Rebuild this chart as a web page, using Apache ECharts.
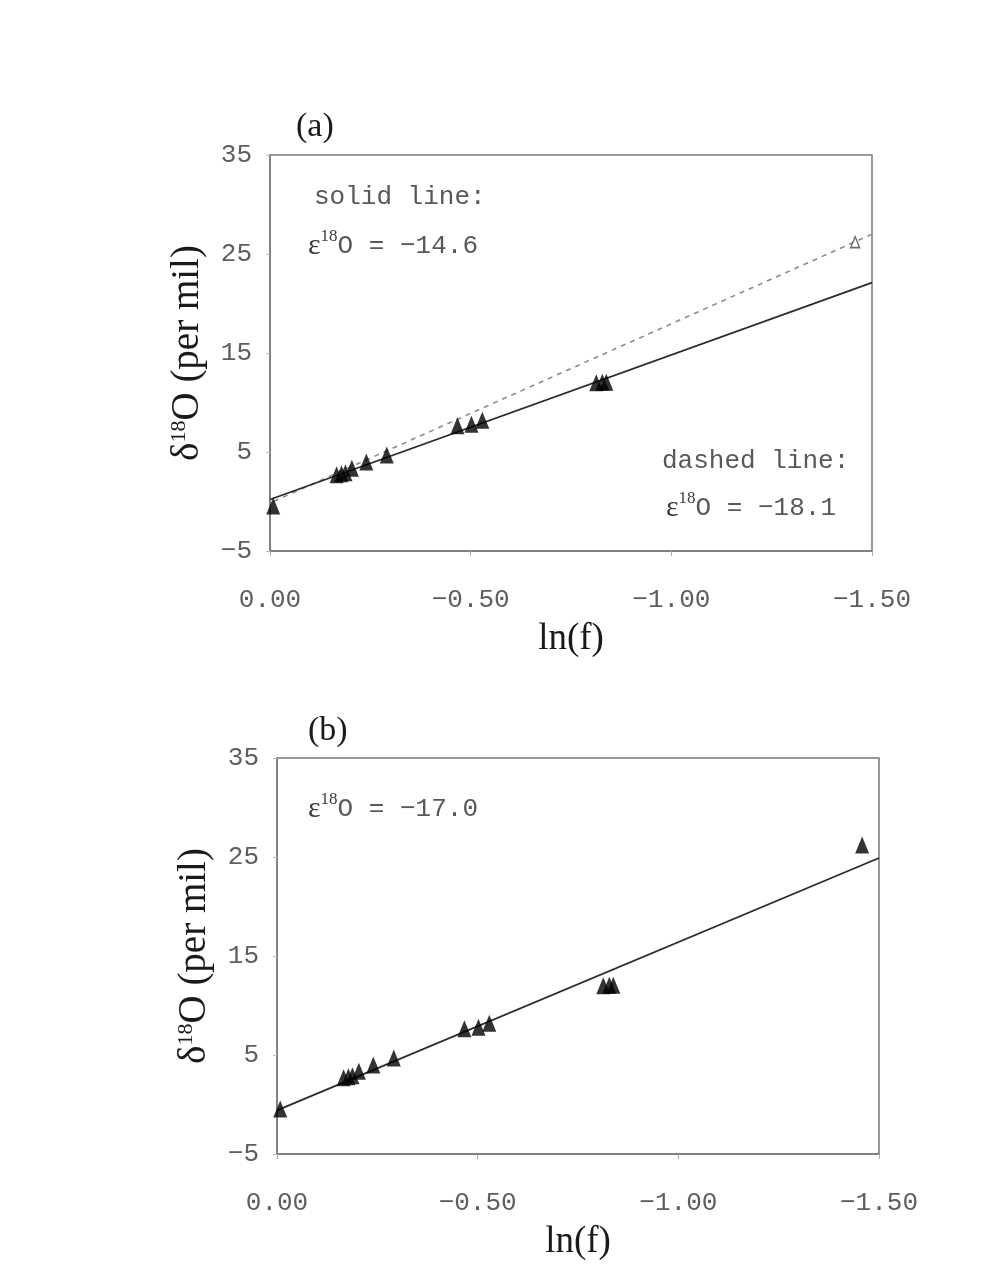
<!DOCTYPE html>
<html>
<head>
<meta charset="utf-8">
<script src="https://cdn.jsdelivr.net/npm/echarts@6/dist/echarts.min.js"></script>
<style>
  html, body { margin: 0; padding: 0; background: #ffffff; }
  #chart { width: 993px; height: 1283px; }
</style>
</head>
<body>
<div id="chart"></div>
<script>
// Residual-fraction measurements: ln(f) and delta-18O (per mil)
const lnF   = [-0.008, -0.166, -0.178, -0.188, -0.204, -0.240, -0.291, -0.467, -0.502, -0.529, -0.813, -0.828, -0.838];
const d18O  = [-0.45, 2.7, 2.8, 2.9, 3.35, 4.0, 4.7, 7.65, 7.8, 8.2, 12.0, 12.05, 12.05];
// last sample (open symbol in panel a, included in the fit of panel b)
const lastLnF = [-1.458];
const lastD18O = [26.2];

// Rayleigh fits: delta = delta0 + epsilon * ln(f)
const epsSolidA = -14.6, d0SolidA = 0.2;
const epsDashedA = -18.1, d0DashedA = -0.15;
const epsB = -17.0, d0B = -0.6;

// axis ticks
const xTicks = [0, -0.5, -1.0, -1.5];
const yTicks = [-5, 5, 15, 25, 35];
const xRange = [-1.5, 0];
const yRange = [-5, 35];

const pts = lnF.map((x, i) => [x, d18O[i]]);
const lastPts = lastLnF.map((x, i) => [x, lastD18O[i]]);
const fitLine = (eps, d0) => xRange.map(x => [x, d0 + eps * x]);

const MINUS = '\u2212';
const fmtNum = (v, digits) => {
  const s = Math.abs(v).toFixed(digits);
  return (v < 0 ? MINUS : '') + s;
};

const monoFont = '"Liberation Mono", "DejaVu Sans Mono", monospace';
const serifFont = '"Liberation Serif", "DejaVu Serif", serif';
const tickColor = '#5e5e5e';
const frameColor = '#7a7a7a';

function xAxisFor(gridIndex) {
  return {
    type: 'value', gridIndex: gridIndex, inverse: true,
    min: xRange[0], max: xRange[1],
    name: 'ln(f)', nameLocation: 'middle', nameGap: 70,
    nameTextStyle: { fontFamily: serifFont, fontSize: 37, color: '#1a1a1a' },
    axisLine: { show: true, onZero: false, lineStyle: { color: frameColor, width: 1.5 } },
    axisTick: { show: true, length: 5, customValues: xTicks, lineStyle: { color: '#aaaaaa' } },
    axisLabel: {
      customValues: xTicks, margin: 36,
      fontFamily: monoFont, fontSize: 26, color: tickColor,
      formatter: v => fmtNum(v, 2)
    },
    splitLine: { show: false }
  };
}

function yAxisFor(gridIndex) {
  return {
    type: 'value', gridIndex: gridIndex,
    min: yRange[0], max: yRange[1],
    name: '{d|δ}{s|18}{o|O (per mil)}', nameLocation: 'middle', nameGap: 62, nameRotate: 90,
    nameTextStyle: {
      color: '#1a1a1a',
      rich: {
        d: { fontFamily: serifFont, fontSize: 39, color: '#1a1a1a' },
        s: { fontFamily: serifFont, fontSize: 22, color: '#1a1a1a', verticalAlign: 'bottom', padding: [0, 0, 18, 0] },
        o: { fontFamily: serifFont, fontSize: 39, color: '#1a1a1a' }
      }
    },
    axisLine: { show: true, onZero: false, lineStyle: { color: frameColor, width: 1.5 } },
    axisTick: { show: true, length: 4, customValues: yTicks, lineStyle: { color: '#bbbbbb' } },
    axisLabel: {
      customValues: yTicks, margin: 18,
      fontFamily: monoFont, fontSize: 26, color: tickColor,
      formatter: v => fmtNum(v, 0)
    },
    splitLine: { show: false }
  };
}

const eqRich = {
  e: { fontFamily: serifFont, fontSize: 30, fill: '#3a3a3a' },
  s: { fontFamily: serifFont, fontSize: 17, fill: '#3a3a3a', verticalAlign: 'bottom', padding: [0, 0, 20, 0] },
  t: { fontFamily: monoFont, fontSize: 26, fill: '#585858' }
};

function label(x, y, text, opts) {
  return Object.assign({
    type: 'text', left: x, top: y, z: 10,
    style: Object.assign({ text: text, fontFamily: monoFont, fontSize: 26, fill: '#585858' }, opts || {})
  });
}

const eq = eps => '{e|ε}{s|18}{t|O = ' + fmtNum(eps, 1) + '}';

const triSymbol = 'triangle';
const triSize = [14, 17];

const option = {
  backgroundColor: '#ffffff',
  animation: false,
  grid: [
    { left: 270, top: 155, width: 602, height: 396, show: true, borderColor: frameColor, borderWidth: 1.5, backgroundColor: 'transparent' },
    { left: 277, top: 758, width: 602, height: 396, show: true, borderColor: frameColor, borderWidth: 1.5, backgroundColor: 'transparent' }
  ],
  xAxis: [xAxisFor(0), xAxisFor(1)],
  yAxis: [yAxisFor(0), yAxisFor(1)],
  graphic: [
    label(296, 110, '(a)', { fontFamily: serifFont, fontSize: 34, fill: '#1a1a1a' }),
    label(314, 184, 'solid line:'),
    label(308, 228, eq(epsSolidA), { rich: eqRich }),
    label(662, 448, 'dashed line:'),
    label(666, 490, eq(epsDashedA), { rich: eqRich }),
    label(308, 714, '(b)', { fontFamily: serifFont, fontSize: 34, fill: '#1a1a1a' }),
    label(308, 791, eq(epsB), { rich: eqRich })
  ],
  series: [
    // panel (a)
    {
      type: 'line', xAxisIndex: 0, yAxisIndex: 0, data: fitLine(epsDashedA, d0DashedA),
      symbol: 'none', lineStyle: { color: '#8c8c8c', width: 1.6, type: [5, 5] }, z: 2
    },
    {
      type: 'line', xAxisIndex: 0, yAxisIndex: 0, data: fitLine(epsSolidA, d0SolidA),
      symbol: 'none', lineStyle: { color: '#2b2b2b', width: 1.8 }, z: 3
    },
    {
      type: 'scatter', xAxisIndex: 0, yAxisIndex: 0, data: pts,
      symbol: triSymbol, symbolSize: triSize, itemStyle: { color: '#000000' }, z: 4
    },
    {
      type: 'scatter', xAxisIndex: 0, yAxisIndex: 0, data: lastPts,
      symbol: triSymbol, symbolSize: [9, 11],
      itemStyle: { color: '#ffffff', borderColor: '#444444', borderWidth: 1.4 }, z: 4
    },
    // panel (b)
    {
      type: 'line', xAxisIndex: 1, yAxisIndex: 1, data: fitLine(epsB, d0B),
      symbol: 'none', lineStyle: { color: '#2b2b2b', width: 1.8 }, z: 3
    },
    {
      type: 'scatter', xAxisIndex: 1, yAxisIndex: 1, data: pts.concat(lastPts),
      symbol: triSymbol, symbolSize: triSize, itemStyle: { color: '#000000' }, z: 4
    }
  ]
};

const chart = echarts.init(document.getElementById('chart'), null, { renderer: 'canvas' });
chart.setOption(option);
</script>
</body>
</html>
